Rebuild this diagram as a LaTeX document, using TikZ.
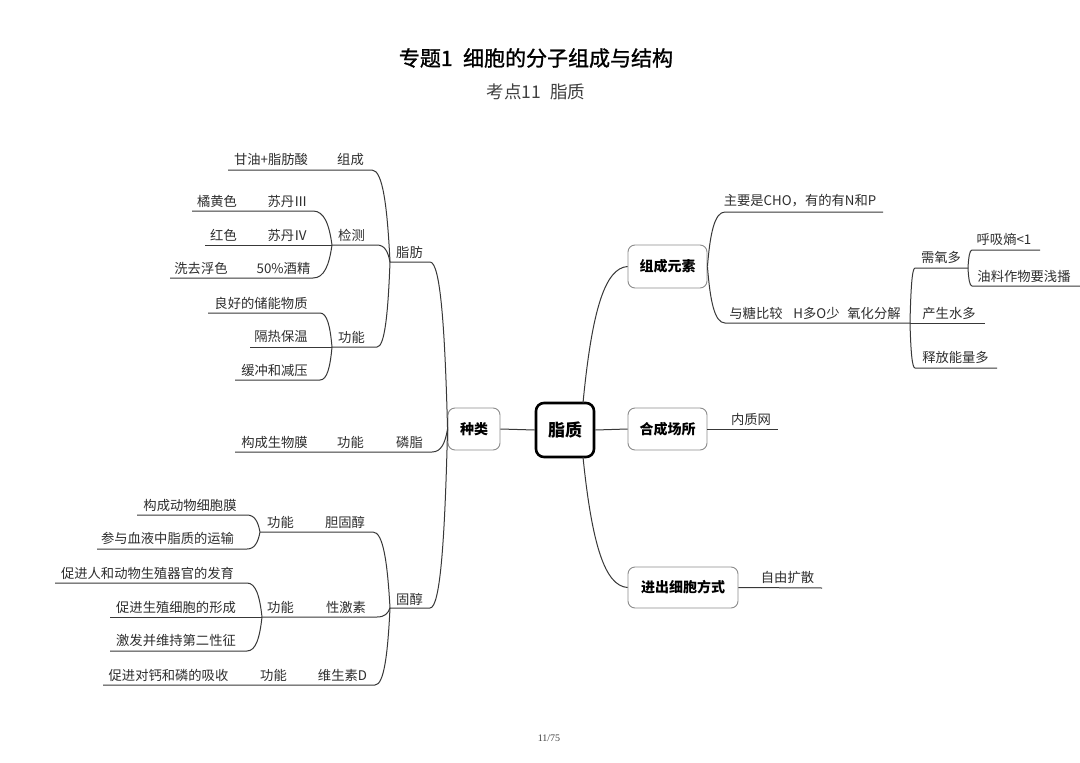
\documentclass[tikz,border=0pt]{standalone}
\usepackage{fontspec}
\setmainfont{Noto Sans CJK SC}
\newfontfamily\titlefont{Noto Sans CJK SC}[FakeBold=1.2]
\newfontfamily\serifnum{Liberation Serif}
\usetikzlibrary{calc}
\tikzset{
  lbl/.style={inner sep=0pt, text=black!82, font=\fontsize{13.3}{15}\selectfont},
  br/.style={draw=black!78, line width=1pt},
  curv/.style={to path={let \p1=(\tikztostart), \p2=(\tikztotarget) in
     .. controls (\x1+0.15*\x2-0.15*\x1, \y1+0.6*\y2-0.6*\y1) and (\x2-0.6*\x2+0.6*\x1, \y2) .. (\tikztotarget)}},
  topic/.style={draw=black!45, line width=0.9pt, rounded corners=7pt, inner sep=0pt,
     font=\bfseries\fontsize{14}{16}\selectfont},
  rootbox/.style={draw=black, line width=2.6pt, rounded corners=8pt, inner sep=0pt,
     font=\bfseries\fontsize{17}{19}\selectfont}
}
\begin{document}
\begin{tikzpicture}[x=1pt,y=-1pt]
\fill[white] (0,0) rectangle (1080,763);
\path[use as bounding box] (0,0) rectangle (1080,763);

% titles
\node[inner sep=0pt, font=\titlefont\fontsize{21}{25}\selectfont] (title) at (536,58) {专题1\enspace 细胞的分子组成与结构};
\node[inner sep=0pt, text=black!75, font=\fontsize{17.5}{20}\selectfont] (sub) at (536,92) {考点11\enspace 脂质};
\node[inner sep=0pt, text=black!75, font=\serifnum\fontsize{10}{12}\selectfont] (page) at (549,738) {11/75};

% main boxes
\node[rootbox, minimum width=58pt, minimum height=54pt] (root) at (565,430) {脂质};
\node[topic, minimum width=52pt, minimum height=42pt] (zl) at (474,429) {种类};
\node[topic, minimum width=79pt, minimum height=43pt] (zy) at (667.5,266.5) {组成元素};
\node[topic, minimum width=79pt, minimum height=42pt] (hc) at (667.5,429) {合成场所};
\node[topic, minimum width=110pt, minimum height=41pt] (jc) at (683,587.5) {进出细胞方式};

\coordinate (rootT) at (583,403);
\coordinate (rootB) at (583,457);
\draw[br] (root.west) -- (zl.east);
\draw[br] (root.east) -- (hc.west);
\draw[br] (rootT) .. controls (592,310) and (605,268) .. (zy.west);
\draw[br] (rootB) .. controls (592,545) and (605,586) .. (jc.west);

% ---------- left: coordinates ----------
\coordinate (zfJ) at (390,262); \coordinate (zfR) at (430,262);
\coordinate (zcR) at (372,170); \coordinate (zcL) at (228,170);
\coordinate (jcJ) at (332,245); \coordinate (jcR) at (377,245);
\coordinate (s3R) at (313,211); \coordinate (s3L) at (192,211);
\coordinate (s4L) at (205,245);
\coordinate (s5R) at (313,278); \coordinate (s5L) at (170,278);
\coordinate (gnJ) at (332,347); \coordinate (gnR) at (377,347);
\coordinate (g1R) at (320,313); \coordinate (g1L) at (208,313);
\coordinate (g2L) at (250,347);
\coordinate (g3R) at (320,380); \coordinate (g3L) at (235,380);
\coordinate (lzR) at (432,452); \coordinate (lzL) at (235,452);
\coordinate (gcJ) at (390,608); \coordinate (gcR) at (430,608);
\coordinate (dgR) at (373,532); \coordinate (dgJ) at (260,532);
\coordinate (d1R) at (247,515); \coordinate (d1L) at (137,515);
\coordinate (d2R) at (247,549); \coordinate (d2L) at (97,549);
\coordinate (xjR) at (377,617); \coordinate (xjJ) at (262,617);
\coordinate (x1R) at (247,583); \coordinate (x1L) at (55,583);
\coordinate (x2L) at (110,617);
\coordinate (x3R) at (247,651); \coordinate (x3L) at (110,651);
\coordinate (wsR) at (375,685); \coordinate (wsL) at (103,685);

\draw[br] (zl.west) to[curv] (zfR) -- (zfJ);
\draw[br] (zl.west) to[curv] (lzR) -- (lzL);
\draw[br] (zl.west) to[curv] (gcR) -- (gcJ);
\draw[br] (zfJ) to[curv] (zcR) -- (zcL);
\draw[br] (zfJ) to[curv] (jcR) -- (jcJ);
\draw[br] (zfJ) to[curv] (gnR) -- (gnJ);
\draw[br] (jcJ) to[curv] (s3R) -- (s3L);
\draw[br] (jcJ) -- (s4L);
\draw[br] (jcJ) to[curv] (s5R) -- (s5L);
\draw[br] (gnJ) to[curv] (g1R) -- (g1L);
\draw[br] (gnJ) -- (g2L);
\draw[br] (gnJ) to[curv] (g3R) -- (g3L);
\draw[br] (gcJ) to[curv] (dgR) -- (dgJ);
\draw[br] (gcJ) to[curv] (xjR) -- (xjJ);
\draw[br] (gcJ) to[curv] (wsR) -- (wsL);
\draw[br] (dgJ) to[curv] (d1R) -- (d1L);
\draw[br] (dgJ) to[curv] (d2R) -- (d2L);
\draw[br] (xjJ) to[curv] (x1R) -- (x1L);
\draw[br] (xjJ) -- (x2L);
\draw[br] (xjJ) to[curv] (x3R) -- (x3L);

% left labels
\node[lbl] (t_zf) at (409.5,252) {脂肪};
\node[lbl] (t_zc) at (350.5,159) {组成};
\node[lbl] (t_gy) at (271,159) {甘油+脂肪酸};
\node[lbl] (t_jc) at (351.5,235) {检测};
\node[lbl] (t_s3) at (287.5,201) {苏丹Ⅲ};
\node[lbl] (t_jh) at (217,201) {橘黄色};
\node[lbl] (t_s4) at (287.5,235) {苏丹Ⅳ};
\node[lbl] (t_hs) at (223.5,235) {红色};
\node[lbl] (t_jj) at (283.5,268) {50\%酒精};
\node[lbl] (t_xq) at (201,268) {洗去浮色};
\node[lbl] (t_gn) at (351.5,337) {功能};
\node[lbl] (t_g1) at (261,303) {良好的储能物质};
\node[lbl] (t_g2) at (281,336) {隔热保温};
\node[lbl] (t_g3) at (274.5,370) {缓冲和减压};
\node[lbl] (t_lz) at (409.5,442) {磷脂};
\node[lbl] (t_lg) at (350.5,442) {功能};
\node[lbl] (t_lm) at (274.5,442) {构成生物膜};
\node[lbl] (t_gc) at (409.5,599) {固醇};
\node[lbl] (t_dg) at (345,522) {胆固醇};
\node[lbl] (t_dn) at (280.5,522) {功能};
\node[lbl] (t_d1) at (190,505) {构成动物细胞膜};
\node[lbl] (t_d2) at (167.5,538) {参与血液中脂质的运输};
\node[lbl] (t_xj) at (346,607) {性激素};
\node[lbl] (t_xn) at (280.5,607) {功能};
\node[lbl] (t_x1) at (147.5,573) {促进人和动物生殖器官的发育};
\node[lbl] (t_x2) at (176,607) {促进生殖细胞的形成};
\node[lbl] (t_x3) at (176,640) {激发并维持第二性征};
\node[lbl] (t_ws) at (342.5,675) {维生素D};
\node[lbl] (t_wn) at (273.5,675) {功能};
\node[lbl] (t_w1) at (168.5,675) {促进对钙和磷的吸收};

% ---------- right ----------
\coordinate (c1L) at (725,212); \coordinate (c1R) at (883,212);
\coordinate (c2L) at (725,323); \coordinate (c2J) at (910,323);
\coordinate (xyL) at (915,268); \coordinate (xyJ) at (968,268);
\coordinate (csR) at (985,323);
\coordinate (sfL) at (915,368); \coordinate (sfR) at (997,368);
\coordinate (hxL) at (972,250); \coordinate (hxR) at (1040,250);
\coordinate (ylL) at (972,286); \coordinate (ylR) at (1080,286);
\coordinate (nzR) at (778,429);
\coordinate (zkR) at (822,588);

\draw[br] (zy.east) to[curv] (c1L) -- (c1R);
\draw[br] (zy.east) to[curv] (c2L) -- (c2J);
\draw[br] (c2J) to[curv] (xyL) -- (xyJ);
\draw[br] (c2J) -- (csR);
\draw[br] (c2J) to[curv] (sfL) -- (sfR);
\draw[br] (xyJ) to[curv] (hxL) -- (hxR);
\draw[br] (xyJ) to[curv] (ylL) -- (ylR);
\draw[br] (hc.east) -- (nzR);
\draw[br] (jc.east) -- (zkR);

\node[lbl] (t_c1) at (800,201) {主要是CHO，有的有N和P};
\node[lbl] (t_c2a) at (756,313) {与糖比较};
\node[lbl] (t_c2b) at (816.5,313) {H多O少};
\node[lbl] (t_c2c) at (874,313) {氧化分解};
\node[lbl] (t_xy) at (941,257) {需氧多};
\node[lbl] (t_cs) at (949,313) {产生水多};
\node[lbl] (t_sf) at (955.5,357) {释放能量多};
\node[lbl] (t_hx) at (1004,239) {呼吸熵<1};
\node[lbl] (t_yl) at (1024,276) {油料作物要浅播};
\node[lbl] (t_nz) at (751,419) {内质网};
\node[lbl] (t_zk) at (787.5,577) {自由扩散};
\end{tikzpicture}
\end{document}
